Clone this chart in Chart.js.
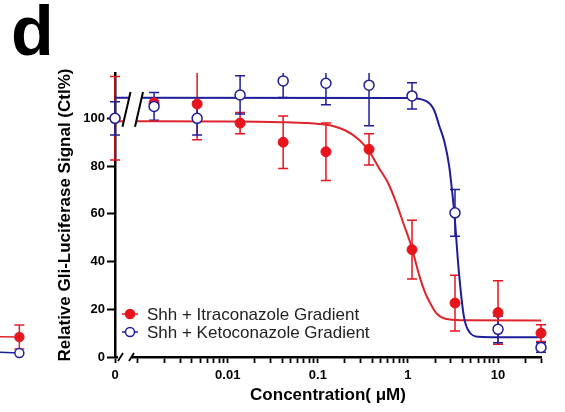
<!DOCTYPE html>
<html>
<head>
<meta charset="utf-8">
<script src="https://cdn.jsdelivr.net/npm/chart.js@4.4.1/dist/chart.umd.min.js"></script>
<style>
  html, body { margin: 0; padding: 0; background: #fff; }
  #wrap { position: relative; width: 565px; height: 412px; }
  #panel {
    position: absolute; left: 11px; top: -4px;
    font: bold 70px "Liberation Sans", Arial, sans-serif; line-height: 70px;
  }
  #edge { position: absolute; left: 0; top: 318px; }
</style>
</head>
<body>
<div id="wrap">
  <canvas id="chart" width="565" height="412"></canvas>
  <canvas id="edge" width="30" height="45"></canvas>
  <div id="panel">d</div>
</div>
<script>
// concentrations (uM), 3-fold dilution series. The untreated control ("0") is
// placed at the left end of the broken log axis.
const controlX = 0.00056;
const concentrations = [controlX, 0.00152, 0.00457, 0.0137, 0.0412, 0.123, 0.370, 1.11, 3.33, 10, 30];

const itraMean = [100, 106.5, 106, 98, 90, 86, 87, 45, 22.6, 18.6, 10];
const itraErr  = [17.5, 2, 15, 4.5, 11, 12, 6.5, 12.3, 11.7, 13.3, 3.5];

const ketoMean = [100, 105, 100, 109.8, 115.7, 114.7, 113.9, 109.4, 60.4, 11.6, 4];
const ketoErr  = [7, 5.8, 7, 8, 7, 9, 17, 5.5, 9.8, 5.6, 2];

// fitted curves
const itraFitX = [controlX, 0.01, 0.04, 0.08, 0.12, 0.16, 0.2, 0.24, 0.29, 0.36, 0.48, 0.6, 0.74, 0.9, 1.1, 1.34, 1.55, 1.8, 2.05, 2.6, 4, 30];
const itraFitY = [98.8, 98.7, 98.4, 98.0, 97.4, 96.4, 95, 93.3, 90.8, 87, 79, 73, 64.7, 55.5, 46, 34, 27, 22, 18.5, 16, 15.4, 15.3];
const ketoFitX = [controlX, 1.0, 1.58, 1.95, 2.23, 2.55, 2.87, 3.0, 3.27, 3.66, 4.18, 4.79, 6.1, 10, 30];
const ketoFitY = [108.6, 108.5, 107.3, 103.5, 96.8, 90, 80, 74, 60.4, 36.5, 16.9, 10.6, 8.5, 8.3, 8.3];

const xTickLabels = ['0', '0.01', '0.1', '1', '10'];
const xTickValues = [controlX, 0.01, 0.1, 1, 10];
const yTicks = [0, 20, 40, 60, 80, 100];
const seriesLabels = ['Shh + Itraconazole Gradient', 'Shh + Ketoconazole Gradient'];

// cropped edge of the neighbouring panel (last point of each series)
const edgeX = [0, 1];
const edgeItra = [17.5, 17.3];
const edgeItraErr = [0, 8];
const edgeKeto = [7.2, 6.6];

const RED = '#e8141c';
const RED_LINE = '#e0242c';
const BLUE = '#1e1e9a';
const FONT = '"Liberation Sans", Arial, sans-serif';

const pts = (xs, ys) => xs.map((x, i) => ({ x: x, y: ys[i] }));

// error bars drawn through the scales, under the markers
const errorBars = {
  id: 'errorBars',
  beforeDatasetsDraw(chart) {
    const ctx = chart.ctx, area = chart.chartArea;
    const xs = chart.scales.x, ys = chart.scales.y;
    ctx.save();
    ctx.beginPath();
    ctx.rect(area.left - 12, area.top, area.width + 24, area.height);
    ctx.clip();
    chart.data.datasets.forEach(ds => {
      if (!ds.errors) return;
      ctx.strokeStyle = ds.borderColor;
      ctx.lineWidth = 1.5;
      ds.data.forEach((p, j) => {
        if (!ds.errors[j]) return;
        const x = xs.getPixelForValue(p.x);
        const t = ys.getPixelForValue(p.y + ds.errors[j]);
        const b = ys.getPixelForValue(p.y - ds.errors[j]);
        ctx.beginPath();
        ctx.moveTo(x, t); ctx.lineTo(x, b);
        ctx.moveTo(x - 5, t); ctx.lineTo(x + 5, t);
        ctx.moveTo(x - 5, b); ctx.lineTo(x + 5, b);
        ctx.stroke();
      });
    });
    ctx.restore();
  }
};

// "//" breaks between the control and the dilution series
const axisBreak = {
  id: 'axisBreak',
  afterDraw(chart) {
    const ctx = chart.ctx, ys = chart.scales.y;
    const left = chart.chartArea.left;
    const base = chart.chartArea.bottom;
    ctx.save();
    ctx.fillStyle = '#fff';
    ctx.fillRect(left + 3, base - 3, 14, 7);
    ctx.strokeStyle = '#000';
    ctx.lineWidth = 1.8;
    [left + 5.5, left + 16.5].forEach(sx => {
      ctx.beginPath();
      ctx.moveTo(sx - 2.5, base + 4);
      ctx.lineTo(sx + 2.5, base - 4);
      ctx.stroke();
    });
    const t = ys.getPixelForValue(111), b = ys.getPixelForValue(96.5);
    const s1 = left + 11.5, s2 = left + 24;
    ctx.beginPath();
    ctx.moveTo(s1 - 4, b); ctx.lineTo(s1 + 4, t); ctx.lineTo(s2 + 4, t); ctx.lineTo(s2 - 4, b);
    ctx.closePath();
    ctx.fill();
    ctx.lineWidth = 2;
    [s1, s2].forEach(sx => {
      ctx.beginPath();
      ctx.moveTo(sx - 4, b);
      ctx.lineTo(sx + 4, t);
      ctx.stroke();
    });
    ctx.restore();
  }
};

// legend inside the plot, bottom left
const innerLegend = {
  id: 'innerLegend',
  afterDraw(chart) {
    const ctx = chart.ctx, area = chart.chartArea;
    const items = chart.data.datasets.filter(ds => ds.inLegend);
    ctx.save();
    ctx.font = '17px ' + FONT;
    ctx.textBaseline = 'middle';
    items.forEach((ds, i) => {
      const y = area.bottom - 43 + i * 18;
      const cx = area.left + 15;
      ctx.strokeStyle = ds.borderColor;
      ctx.lineWidth = 1.5;
      ctx.beginPath();
      ctx.moveTo(cx - 8, y); ctx.lineTo(cx + 8, y);
      ctx.stroke();
      ctx.beginPath();
      ctx.arc(cx, y, 4.5, 0, Math.PI * 2);
      ctx.fillStyle = ds.pointBackgroundColor;
      ctx.fill();
      ctx.stroke();
      ctx.fillStyle = '#222';
      ctx.fillText(ds.label, area.left + 32, y + 1);
    });
    ctx.restore();
  }
};

const tickFont = { family: FONT, size: 13, weight: 'bold' };

new Chart(document.getElementById('chart'), {
  type: 'scatter',
  data: {
    datasets: [
      {
        label: 'itra fit', data: pts(itraFitX, itraFitY),
        showLine: true, pointRadius: 0, borderColor: RED_LINE, borderWidth: 2,
        cubicInterpolationMode: 'monotone', order: 5
      },
      {
        label: 'keto fit', data: pts(ketoFitX, ketoFitY),
        showLine: true, pointRadius: 0, borderColor: BLUE, borderWidth: 2,
        cubicInterpolationMode: 'monotone', order: 4
      },
      {
        label: seriesLabels[0], data: pts(concentrations, itraMean), errors: itraErr,
        pointRadius: 5, pointBackgroundColor: RED, borderColor: RED, pointBorderWidth: 1,
        clip: false, order: 3, inLegend: true
      },
      {
        label: seriesLabels[1], data: pts(concentrations, ketoMean), errors: ketoErr,
        pointRadius: 5, pointBackgroundColor: '#fff', borderColor: BLUE, pointBorderWidth: 1.5,
        clip: false, order: 1, inLegend: true
      }
    ]
  },
  options: {
    responsive: false,
    animation: false,
    layout: { padding: { left: 55, right: 24, top: 73, bottom: 6 } },
    plugins: { legend: { display: false }, tooltip: { enabled: false } },
    scales: {
      x: {
        type: 'logarithmic', position: 'bottom',
        min: controlX, max: 30, offset: false,
        grid: { drawOnChartArea: false, tickLength: 6, tickColor: '#000', tickWidth: 1.8 },
        border: { color: '#000', width: 2.5 },
        afterBuildTicks: s => {
          const vals = [{ value: controlX }];
          for (let e = -3; e <= 1; e++) {
            for (let m = 1; m <= 9; m++) {
              const v = m * Math.pow(10, e);
              if (v <= 30.5) vals.push({ value: v });
            }
          }
          s.ticks = vals;
        },
        ticks: {
          font: tickFont, color: '#000', padding: 5, maxRotation: 0, autoSkip: false,
          callback: v => {
            const k = xTickValues.findIndex(t => Math.abs(t - v) / t < 1e-6);
            return k < 0 ? '' : xTickLabels[k];
          }
        },
        title: {
          display: true, text: 'Concentration( μM)', color: '#000', padding: 0,
          font: { family: FONT, size: 17, weight: 'bold' }
        },
        afterFit: s => { s.height = 49; }
      },
      y: {
        min: 0, max: 119,
        grid: { drawOnChartArea: false, tickLength: 8, tickColor: '#000', tickWidth: 2 },
        border: { color: '#000', width: 2.5 },
        afterBuildTicks: s => { s.ticks = yTicks.map(v => ({ value: v })); },
        ticks: { font: tickFont, color: '#000', padding: 2 },
        title: {
          display: true, text: 'Relative Gli-Luciferase Signal (Ctl%)', color: '#000', padding: 0,
          font: { family: FONT, size: 17, weight: 'bold' }
        },
        afterFit: s => { s.width = 60; }
      }
    }
  },
  plugins: [errorBars, axisBreak, innerLegend]
});

// sliver of the neighbouring panel at the left edge of the figure
new Chart(document.getElementById('edge'), {
  type: 'scatter',
  data: {
    datasets: [
      {
        data: pts(edgeX, edgeItra), errors: edgeItraErr, showLine: true,
        borderColor: RED_LINE, borderWidth: 1.5, pointBackgroundColor: RED,
        pointRadius: [0, 4.5], clip: false
      },
      {
        data: pts(edgeX, edgeKeto), showLine: true,
        borderColor: BLUE, borderWidth: 1.5, pointBackgroundColor: '#fff',
        pointBorderWidth: 1.5, pointRadius: [0, 4.5], clip: false
      }
    ]
  },
  options: {
    responsive: false,
    animation: false,
    layout: { padding: 0, autoPadding: false },
    plugins: { legend: { display: false }, tooltip: { enabled: false } },
    scales: {
      x: { display: false, min: 0, max: 1.55 },
      y: { display: false, min: 0, max: 30 }
    }
  },
  plugins: [errorBars]
});
</script>
</body>
</html>
